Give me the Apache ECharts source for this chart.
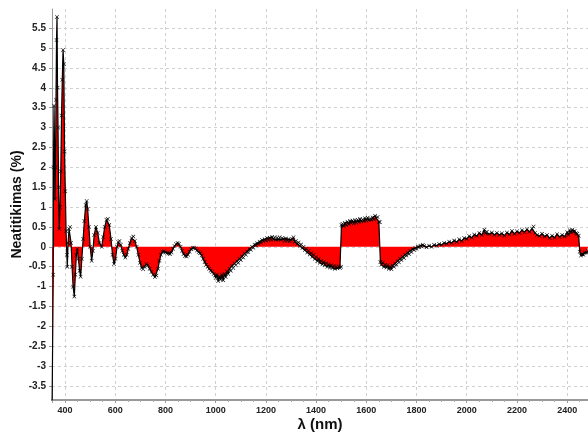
<!DOCTYPE html>
<html>
<head>
<meta charset="utf-8">
<script src="https://cdn.jsdelivr.net/npm/echarts@6/dist/echarts.min.js"></script>
<style>
  html, body { margin: 0; padding: 0; background: #fff; }
  #main { width: 588px; height: 433px; }
</style>
</head>
<body>
<div id="main"></div>
<script>
// bangos ilgis (nm)
var wavelength = [
  348, 351, 353, 354, 356, 358, 360, 362, 364, 366, 368, 370, 372, 374, 377, 380, 383, 386, 389, 392, 395,
  398, 401, 404, 407, 409, 412, 416, 420, 424, 428, 432, 437, 441, 445, 449, 453, 458, 462, 467, 472,
  477, 482, 486, 490, 495, 500, 506, 511, 516, 523, 530, 537, 546, 552, 558, 565, 570, 576, 583, 589,
  595, 601, 607, 612, 617, 622, 628, 634, 640, 646, 652, 658, 665, 672, 678, 685, 692, 699, 705, 711,
  717, 724, 730, 737, 744, 751, 758, 764, 770, 776, 782, 788, 794, 800, 806, 812, 818, 824, 830, 836,
  842, 848, 854, 860, 866, 872, 878, 884, 890, 896, 902, 908, 914, 920, 926, 932, 938, 944, 950, 956,
  962, 968, 974, 980, 986, 992, 998,
  1000, 1005, 1010, 1015, 1020, 1025, 1030, 1035, 1040, 1045, 1050, 1055, 1060, 1065, 1070, 1075, 1080, 1085, 1090, 1095,
  1100, 1105, 1110, 1115, 1120, 1125, 1130, 1135, 1140, 1145, 1150, 1155, 1160, 1165, 1170, 1175, 1180, 1185, 1190, 1195,
  1200, 1205, 1210, 1215, 1220, 1225, 1230, 1235, 1240, 1245, 1250, 1255, 1260, 1265, 1270, 1275, 1280, 1285, 1290, 1295,
  1300, 1305, 1310, 1315, 1320, 1325, 1330, 1335, 1340, 1345, 1350, 1355, 1360, 1365, 1370, 1375, 1380, 1385, 1390, 1395,
  1400, 1405, 1410, 1415, 1420, 1425, 1430, 1435, 1440, 1445, 1450, 1455, 1460, 1465, 1470, 1475, 1480, 1485, 1490, 1495,
  1499, 1501, 1505, 1510, 1515, 1520, 1525, 1530, 1535, 1540, 1545, 1550, 1555, 1560, 1565, 1570, 1575, 1580, 1585, 1590,
  1595, 1600, 1605, 1610, 1615, 1620, 1625, 1630, 1635, 1640, 1645, 1650, 1654, 1656, 1660, 1665, 1670, 1675, 1680, 1685,
  1690, 1695, 1700, 1705, 1710, 1715, 1720, 1725, 1730, 1735, 1740, 1745, 1750, 1755, 1760, 1765, 1770, 1775, 1780, 1785,
  1790, 1795, 1800, 1805, 1810, 1815, 1820, 1825, 1830, 1840, 1850, 1860, 1870, 1880, 1890, 1900, 1910, 1920, 1930, 1940,
  1950, 1960, 1970, 1980, 1990, 2000, 2010, 2020, 2030, 2040, 2050, 2060, 2070, 2075, 2080, 2090, 2100, 2110, 2120, 2130,
  2140, 2150, 2160, 2170, 2180, 2190, 2200, 2210, 2220, 2230, 2240, 2250, 2260, 2266, 2272, 2280, 2290, 2300, 2310, 2320,
  2330, 2340, 2350, 2360, 2370, 2380, 2390, 2400, 2405, 2410, 2415, 2420, 2425, 2430, 2435, 2440, 2446, 2450, 2455, 2460,
  2465, 2470, 2478, 2483
];
// neatitikimas (%)
var mismatch = [
  -4.2, -4.2, -0.7, 2.0, 3.55, 2.6, 1.2, 2.0, 3.7, 5.2, 5.78, 4.0, 3.0, 1.5, 0.45, 1.0, 1.9, 3.3, 4.2, 4.95, 4.6,
  2.4, 1.4, 0.4, -0.2, -0.5, 0.1, 0.45, 0.5, 0.1, -0.5, -1.0, -1.25, -0.7, -0.2, -0.05, -0.3, -0.6, -0.75, -0.3, 0.2,
  0.65, 1.05, 1.15, 0.95, 0.5, 0.0, -0.35, -0.1, 0.3, 0.5, 0.35, 0.1, 0.0, 0.25, 0.5, 0.68, 0.7, 0.55, 0.2, -0.2,
  -0.43, -0.3, 0.0, 0.12, 0.15, 0.05, -0.1, -0.2, -0.27, -0.2, -0.05, 0.1, 0.22, 0.26, 0.15, 0.0, -0.2, -0.4, -0.53, -0.56,
  -0.5, -0.43, -0.46, -0.55, -0.63, -0.7, -0.76, -0.72, -0.55, -0.35, -0.2, -0.12, -0.11, -0.14, -0.15, -0.17, -0.18, -0.14, -0.05, 0.02,
  0.07, 0.1, 0.08, 0.0, -0.1, -0.18, -0.23, -0.24, -0.2, -0.12, -0.06, -0.02, -0.02, -0.04, -0.09, -0.13, -0.16, -0.22, -0.3, -0.38,
  -0.45, -0.5, -0.55, -0.6, -0.63, -0.68, -0.72,
  -0.78, -0.7, -0.86, -0.74, -0.82, -0.7, -0.84, -0.68, -0.76, -0.62, -0.68, -0.55, -0.6, -0.48, -0.53, -0.42, -0.46, -0.36, -0.4, -0.3,
  -0.33, -0.24, -0.27, -0.17, -0.2, -0.12, -0.13, -0.06, -0.07, 0.0, -0.02, 0.05, 0.04, 0.09, 0.08, 0.13, 0.11, 0.17, 0.14, 0.19,
  0.16, 0.22, 0.17, 0.23, 0.18, 0.25, 0.19, 0.24, 0.18, 0.23, 0.19, 0.24, 0.18, 0.22, 0.2, 0.15, 0.21, 0.16, 0.19, 0.14,
  0.18, 0.2, 0.24, 0.13, 0.15, 0.08, 0.11, 0.03, 0.06, -0.03, 0.0, -0.08, -0.05, -0.14, -0.1, -0.19, -0.16, -0.25, -0.2, -0.3,
  -0.26, -0.36, -0.3, -0.4, -0.35, -0.44, -0.38, -0.46, -0.41, -0.5, -0.44, -0.52, -0.46, -0.53, -0.48, -0.55, -0.5, -0.54, -0.49, -0.53,
  -0.5, 0.55, 0.58, 0.52, 0.6, 0.55, 0.63, 0.57, 0.65, 0.6, 0.66, 0.59, 0.67, 0.61, 0.68, 0.62, 0.7, 0.64, 0.69, 0.65,
  0.72, 0.66, 0.73, 0.67, 0.71, 0.68, 0.74, 0.69, 0.78, 0.72, 0.75, 0.63, 0.62, -0.38, -0.45, -0.4, -0.5, -0.45, -0.52, -0.46,
  -0.55, -0.5, -0.56, -0.47, -0.5, -0.42, -0.45, -0.36, -0.39, -0.3, -0.33, -0.25, -0.28, -0.2, -0.22, -0.15, -0.18, -0.1, -0.13, -0.06,
  -0.08, -0.03, -0.05, 0.0, -0.01, 0.03, 0.01, 0.05, 0.02, -0.01, 0.03, 0.0, 0.05, 0.03, 0.07, 0.05, 0.1, 0.08, 0.13, 0.1,
  0.16, 0.12, 0.19, 0.15, 0.22, 0.2, 0.27, 0.23, 0.31, 0.27, 0.35, 0.3, 0.43, 0.34, 0.38, 0.32, 0.36, 0.3, 0.35, 0.3,
  0.34, 0.28, 0.36, 0.31, 0.4, 0.33, 0.39, 0.35, 0.42, 0.37, 0.44, 0.38, 0.46, 0.51, 0.35, 0.3, 0.27, 0.33, 0.26, 0.3,
  0.22, 0.28, 0.23, 0.32, 0.25, 0.3, 0.26, 0.37, 0.3, 0.42, 0.36, 0.43, 0.38, 0.4, 0.34, 0.33, 0.28, -0.12, -0.22, -0.18,
  -0.2, -0.14, -0.15, -0.1
];

var seriesData = wavelength.map(function (w, i) { return [w, mismatch[i]]; });

var chartDom = document.getElementById('main');
var myChart = echarts.init(chartDom, null, { renderer: 'canvas' });
var option;

var crossSymbol = 'path://M0,1 L1,0 L5,4 L9,0 L10,1 L6,5 L10,9 L9,10 L5,6 L1,10 L0,9 L4,5 Z';

option = {
  animation: false,
  grid: {
    left: 52,
    right: 0,
    top: 9,
    bottom: 33,
    outerBoundsMode: 'none',
    containLabel: false
  },
  xAxis: {
    type: 'value',
    min: 348,
    max: 2483,
    splitNumber: 10,
    name: 'λ (nm)',
    nameLocation: 'middle',
    nameGap: 17,
    nameMoveOverlap: false,
    nameTextStyle: {
      fontFamily: 'Liberation Sans',
      fontWeight: 'bold',
      fontSize: 15,
      color: '#111'
    },
    axisLine: { onZero: false, lineStyle: { color: '#999', width: 2 } },
    axisTick: { show: true, length: 3, lineStyle: { color: '#999' } },
    minorTick: { show: true, splitNumber: 4, length: 2, lineStyle: { color: '#aaa' } },
    axisLabel: {
      showMinLabel: false,
      showMaxLabel: false,
      margin: 6,
      fontFamily: 'Liberation Sans',
      fontWeight: 'bold',
      fontSize: 9,
      color: '#222',
      formatter: function (v) { return String(v); }
    },
    splitLine: {
      show: true,
      showMinLine: false,
      showMaxLine: false,
      lineStyle: { color: '#d0d0d0', type: [3, 3], width: 1 }
    }
  },
  yAxis: {
    type: 'value',
    min: -3.85,
    max: 5.98,
    splitNumber: 20,
    name: 'Neatitikimas (%)',
    nameLocation: 'middle',
    nameGap: 28,
    nameMoveOverlap: false,
    nameTextStyle: {
      fontFamily: 'Liberation Sans',
      fontWeight: 'bold',
      fontSize: 14,
      color: '#111'
    },
    axisLine: { show: true, lineStyle: { color: '#999', width: 1 } },
    axisTick: { show: true, length: 3, lineStyle: { color: '#999' } },
    axisLabel: {
      showMinLabel: false,
      showMaxLabel: false,
      margin: 6,
      fontFamily: 'Liberation Sans',
      fontWeight: 'bold',
      fontSize: 10,
      color: '#222'
    },
    splitLine: {
      show: true,
      showMinLine: false,
      showMaxLine: false,
      lineStyle: { color: '#d0d0d0', type: [3, 3], width: 1 }
    }
  },
  series: [
    {
      type: 'line',
      data: seriesData,
      symbol: crossSymbol,
      symbolSize: 4,
      showAllSymbol: true,
      itemStyle: { color: '#000' },
      lineStyle: { color: '#000', width: 1.2 },
      areaStyle: { color: '#ff0000', opacity: 1, origin: 0 },
      clip: true
    }
  ]
};

option && myChart.setOption(option);
</script>
</body>
</html>
